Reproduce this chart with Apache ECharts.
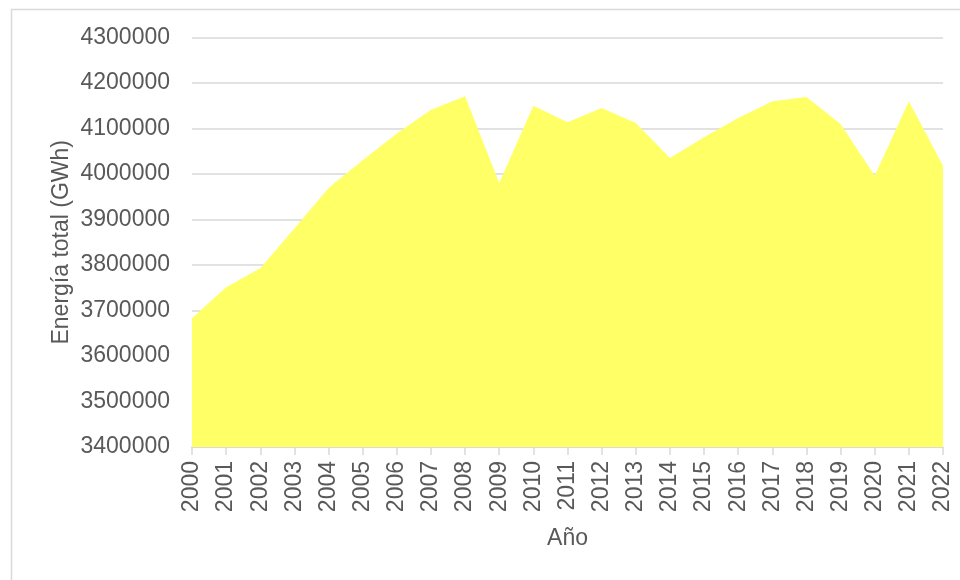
<!DOCTYPE html>
<html>
<head>
<meta charset="utf-8">
<style>
  html, body { margin: 0; padding: 0; background: #ffffff; }
  #chart { width: 960px; height: 580px; }
</style>
<script src="https://cdn.jsdelivr.net/npm/echarts@6/dist/echarts.min.js"></script>
</head>
<body>
<div id="chart"></div>
<script>
// Years on the category axis
const years = ['2000','2001','2002','2003','2004','2005','2006','2007','2008','2009','2010',
  '2011','2012','2013','2014','2015','2016','2017','2018','2019','2020','2021','2022'];

// Total energy per year (GWh)
const energiaTotal = [3683000, 3751000, 3793000, 3880000, 3969000, 4030000, 4089000, 4141000, 4171000,
  3980000, 4150000, 4114000, 4145000, 4112000, 4035000, 4081000, 4123000, 4160000, 4169000,
  4110000, 3996000, 4160000, 4018000];

// Value axis range
const yMin = 3400000;
const yMax = 4300000;
const yStep = 100000;

const textColor = '#595959';
const lineColor = '#d9d9d9';
const fontFamily = '"Liberation Sans", Arial, sans-serif';
const fontSize = 23;

const chart = echarts.init(document.getElementById('chart'), null, { renderer: 'canvas' });

chart.setOption({
  backgroundColor: '#ffffff',
  animation: false,
  textStyle: { fontFamily: fontFamily, color: textColor },
  graphic: [{
    type: 'rect',
    shape: { x: 11.5, y: 9.5, width: 970, height: 600 },
    style: { fill: 'none', stroke: lineColor, lineWidth: 1.5 },
    silent: true,
    z: -1
  }],
  grid: { left: 192, right: 17, top: 37.5, bottom: 133, containLabel: false },
  xAxis: {
    type: 'category',
    data: years,
    boundaryGap: false,
    name: 'Año',
    nameLocation: 'middle',
    nameGap: 80,
    nameMoveOverlap: false,
    nameTextStyle: { fontSize: fontSize, color: textColor, fontFamily: fontFamily },
    axisLine: { show: true, lineStyle: { color: lineColor, width: 1.5 } },
    axisTick: { show: true, length: 8, alignWithLabel: true, lineStyle: { color: lineColor, width: 1.5 } },
    axisLabel: { rotate: 90, margin: 14, fontSize: fontSize, color: textColor, fontFamily: fontFamily, interval: 0 },
    splitLine: { show: false }
  },
  yAxis: {
    type: 'value',
    min: yMin,
    max: yMax,
    interval: yStep,
    name: 'Energía total (GWh)',
    nameLocation: 'middle',
    nameRotate: 90,
    nameGap: 119,
    nameMoveOverlap: false,
    nameTextStyle: { fontSize: fontSize, color: textColor, fontFamily: fontFamily },
    axisLine: { show: false },
    axisTick: { show: false },
    axisLabel: {
      margin: 22, fontSize: fontSize, color: textColor, fontFamily: fontFamily,
      formatter: (v) => String(v)
    },
    splitLine: { show: true, lineStyle: { color: lineColor, width: 1.5 } }
  },
  series: [{
    type: 'line',
    data: energiaTotal,
    symbol: 'none',
    lineStyle: { width: 0, color: '#ffff66' },
    itemStyle: { color: '#ffff66' },
    areaStyle: { color: '#ffff66', opacity: 1, origin: 'start' },
    z: 1
  }]
});
</script>
</body>
</html>
